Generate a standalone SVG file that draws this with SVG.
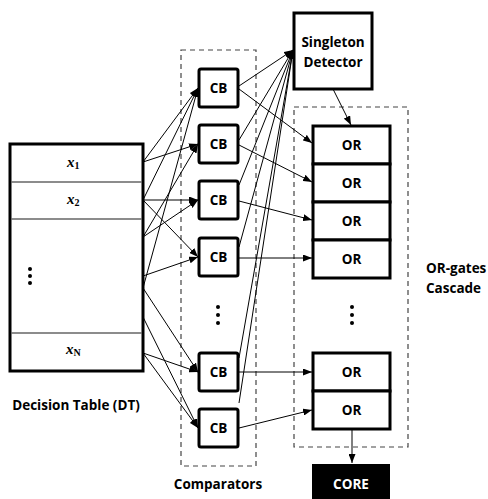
<svg xmlns="http://www.w3.org/2000/svg" width="488" height="499" viewBox="0 0 488 499">
<defs>
<marker id="ah" markerUnits="userSpaceOnUse" markerWidth="9" markerHeight="7" refX="9" refY="3.5" orient="auto">
<path d="M0,0 L9,3.5 L0,7 z" fill="#000"/>
</marker>
<style>
.box{fill:#fff;stroke:#000;stroke-width:3}
.dash{fill:none;stroke:#444;stroke-width:1.2;stroke-dasharray:5,4}
.lbl{font-family:"Open Sans","Noto Sans",sans-serif;font-weight:bold;font-size:13.5px;fill:#000}
.var{font-family:"Liberation Serif",serif;font-style:italic;font-weight:bold;font-size:15px;fill:#000}
.sub{font-family:"Liberation Serif",serif;font-style:normal;font-weight:bold;font-size:10px}
.row{stroke:#666;stroke-width:1.5}
.cn line{stroke:#000;stroke-width:1;marker-end:url(#ah)}
</style>
</defs>
<rect width="488" height="499" fill="#fff"/>

<g id="dt">
<rect class="box" x="10" y="144" width="133" height="227"/>
<line class="row" x1="11" y1="182" x2="142" y2="182"/>
<line class="row" x1="11" y1="219" x2="142" y2="219"/>
<line class="row" x1="11" y1="333" x2="142" y2="333"/>
<text class="var" x="67" y="167">x<tspan class="sub" dy="2">1</tspan></text>
<text class="var" x="67" y="204">x<tspan class="sub" dy="2">2</tspan></text>
<text class="var" x="66" y="354">x<tspan class="sub" dy="2">N</tspan></text>
<circle cx="30" cy="269" r="2"/><circle cx="30" cy="276" r="2"/><circle cx="30" cy="283" r="2"/>
<text class="lbl" x="76" y="410" text-anchor="middle">Decision Table (DT)</text>
</g>

<g id="comparators">
<rect class="dash" x="181" y="50" width="75" height="416"/>
<text class="lbl" x="218" y="489" text-anchor="middle">Comparators</text>
</g>
<g id="cb1"><rect class="box" x="199" y="69" width="39" height="38" rx="2"/><text class="lbl" x="218.5" y="93" text-anchor="middle">CB</text></g>
<g id="cb2"><rect class="box" x="199" y="125" width="39" height="38" rx="2"/><text class="lbl" x="218.5" y="149" text-anchor="middle">CB</text></g>
<g id="cb3"><rect class="box" x="199" y="181" width="39" height="38" rx="2"/><text class="lbl" x="218.5" y="205" text-anchor="middle">CB</text></g>
<g id="cb4"><rect class="box" x="199" y="238" width="39" height="38" rx="2"/><text class="lbl" x="218.5" y="262" text-anchor="middle">CB</text></g>
<g id="cbdots"><circle cx="218" cy="307" r="2"/><circle cx="218" cy="315" r="2"/><circle cx="218" cy="323" r="2"/></g>
<g id="cb5"><rect class="box" x="199" y="353" width="39" height="38" rx="2"/><text class="lbl" x="218.5" y="377" text-anchor="middle">CB</text></g>
<g id="cb6"><rect class="box" x="199" y="409" width="39" height="38" rx="2"/><text class="lbl" x="218.5" y="433" text-anchor="middle">CB</text></g>

<g id="singleton">
<rect class="box" x="294" y="13" width="78" height="76"/>
<text class="lbl" x="333" y="47" text-anchor="middle">Singleton</text>
<text class="lbl" x="333" y="67" text-anchor="middle">Detector</text>
</g>

<g id="cascade">
<rect class="dash" x="294" y="107" width="114" height="340"/>
<text class="lbl" x="426" y="273">OR-gates</text>
<text class="lbl" x="426" y="293">Cascade</text>
</g>
<g id="or1"><rect class="box" x="313" y="126" width="77" height="38"/><text class="lbl" x="351.5" y="150" text-anchor="middle">OR</text></g>
<g id="or2"><rect class="box" x="313" y="164" width="77" height="38"/><text class="lbl" x="351.5" y="188" text-anchor="middle">OR</text></g>
<g id="or3"><rect class="box" x="313" y="202" width="77" height="38"/><text class="lbl" x="351.5" y="226" text-anchor="middle">OR</text></g>
<g id="or4"><rect class="box" x="313" y="240" width="77" height="38"/><text class="lbl" x="351.5" y="264" text-anchor="middle">OR</text></g>
<g id="ordots"><circle cx="352" cy="307" r="2"/><circle cx="352" cy="315" r="2"/><circle cx="352" cy="323" r="2"/></g>
<g id="or5"><rect class="box" x="313" y="353" width="77" height="38"/><text class="lbl" x="351.5" y="377" text-anchor="middle">OR</text></g>
<g id="or6"><rect class="box" x="313" y="391" width="77" height="38"/><text class="lbl" x="351.5" y="415" text-anchor="middle">OR</text></g>

<g id="core">
<rect x="312" y="464" width="78" height="36" fill="#000"/>
<text class="lbl" x="351" y="489" text-anchor="middle" style="fill:#fff">CORE</text>
</g>

<g id="connectors" class="cn">
<line x1="143" y1="162" x2="198" y2="88"/>
<line x1="143" y1="162" x2="198" y2="144"/>
<line x1="143" y1="200" x2="198" y2="88"/>
<line x1="143" y1="200" x2="198" y2="200"/>
<line x1="143" y1="200" x2="198" y2="257"/>
<line x1="143" y1="237" x2="198" y2="144"/>
<line x1="143" y1="237" x2="198" y2="200"/>
<line x1="143" y1="276" x2="198" y2="257"/>
<line x1="143" y1="288" x2="198" y2="88"/>
<line x1="143" y1="288" x2="198" y2="372"/>
<line x1="143" y1="317" x2="198" y2="428"/>
<line x1="143" y1="353" x2="198" y2="372"/>
<line x1="143" y1="353" x2="198" y2="428"/>

<line x1="239" y1="86" x2="293" y2="50"/>
<line x1="239" y1="140" x2="293" y2="50"/>
<line x1="239" y1="185" x2="293" y2="50"/>
<line x1="239" y1="247" x2="293" y2="50"/>
<line x1="239" y1="358" x2="293" y2="50"/>
<line x1="239" y1="403" x2="293" y2="50"/>

<line x1="239" y1="89" x2="312" y2="143"/>
<line x1="239" y1="145" x2="312" y2="182"/>
<line x1="239" y1="201" x2="312" y2="220"/>
<line x1="239" y1="258" x2="312" y2="258"/>
<line x1="239" y1="372" x2="312" y2="372"/>
<line x1="239" y1="428" x2="312" y2="410"/>

<line x1="333" y1="89" x2="351" y2="125"/>
<line x1="352" y1="430" x2="352" y2="463"/>
</g>
</svg>
